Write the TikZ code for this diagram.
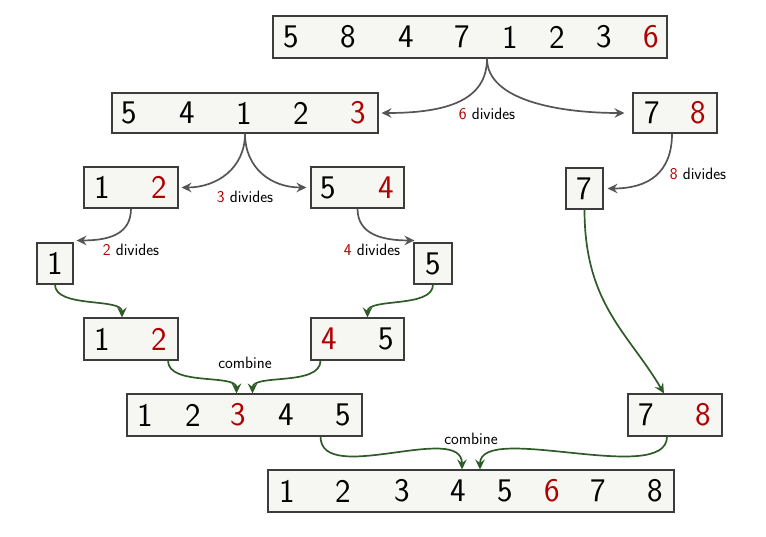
\documentclass[tikz,border=0pt]{standalone}
\usetikzlibrary{arrows.meta}
\definecolor{boxfill}{HTML}{F6F6F3}
\definecolor{boxdraw}{HTML}{3C3C3C}
\definecolor{numred}{HTML}{B00000}
\definecolor{arrgray}{HTML}{555555}
\definecolor{arrgreen}{HTML}{2E5B28}
\tikzset{
  box/.style={draw=boxdraw, fill=boxfill, line width=1.1pt, inner sep=0pt, minimum height=41pt},
  num/.style={font=\sffamily\fontsize{33}{36}\selectfont, inner sep=0pt, anchor=center},
  rnum/.style={num, text=numred},
  lab/.style={font=\sffamily\fontsize{16.5}{19}\selectfont, inner sep=0pt},
  tipstyle/.style={-{Stealth[length=10pt,width=9.5pt,inset=3.5pt]}},
  divarrow/.style={draw=arrgray, line width=1.7pt, tipstyle},
  combarrow/.style={draw=arrgreen, line width=1.7pt, tipstyle},
}
\begin{document}
\begin{tikzpicture}[x=1pt,y=-1pt]
\useasboundingbox (0,0) rectangle (766,536);
% boxes
\node[box, minimum width=394pt, minimum height=42pt] (top) at (470,37) {};
\node[box, minimum width=266pt, minimum height=40pt] (b2) at (245,113) {};
\node[box, minimum width=84pt, minimum height=40pt] (b78) at (675,113) {};
\node[box, minimum width=94pt] (b12) at (131,187.5) {};
\node[box, minimum width=93pt] (b54) at (357.5,187.5) {};
\node[box, minimum width=36pt] (b1) at (55,263.5) {};
\node[box, minimum width=38pt] (b5) at (433,263.5) {};
\node[box, minimum width=37pt] (b7) at (584.5,188.5) {};
\node[box, minimum width=94pt, minimum height=42pt] (c12) at (131,339) {};
\node[box, minimum width=93pt, minimum height=42pt] (c45) at (357.5,339) {};
\node[box, minimum width=235pt, minimum height=42pt] (c12345) at (244.5,415) {};
\node[box, minimum width=94pt, minimum height=42pt] (c78) at (675,415) {};
\node[box, minimum width=406pt, minimum height=42pt] (fin) at (471,491) {};
% numbers: top
\node[num] (t1) at (291,37) {5};
\node[num] (t2) at (348,37) {8};
\node[num] (t3) at (406,37) {4};
\node[num] (t4) at (462,37) {7};
\node[num] (t5) at (510,37) {1};
\node[num] (t6) at (557,37) {2};
\node[num] (t7) at (604,37) {3};
\node[rnum] (t8) at (651,37) {6};
% b2
\node[num] (u1) at (129,113) {5};
\node[num] (u2) at (187,113) {4};
\node[num] (u3) at (244,113) {1};
\node[num] (u4) at (301,113) {2};
\node[rnum] (u5) at (358,113) {3};
% b78
\node[num] (v1) at (652,113) {7};
\node[rnum] (v2) at (698,113) {8};
% b12
\node[num] (w1) at (102,187.5) {1};
\node[rnum] (w2) at (159,187.5) {2};
% b54
\node[num] (x1) at (328,187.5) {5};
\node[rnum] (x2) at (386,187.5) {4};
% b1, b5, b7
\node[num] (y1) at (55,263.5) {1};
\node[num] (y2) at (433,263.5) {5};
\node[num] (y3) at (584.5,188.5) {7};
% c12
\node[num] (z1) at (102,339) {1};
\node[rnum] (z2) at (159,339) {2};
% c45
\node[rnum] (z3) at (329,339) {4};
\node[num] (z4) at (386,339) {5};
% c12345
\node[num] (k1) at (145,415) {1};
\node[num] (k2) at (193,415) {2};
\node[rnum] (k3) at (238,415) {3};
\node[num] (k4) at (286,415) {4};
\node[num] (k5) at (343,415) {5};
% c78
\node[num] (m1) at (646,415) {7};
\node[rnum] (m2) at (703,415) {8};
% final
\node[num] (f1) at (287,491) {1};
\node[num] (f2) at (343,491) {2};
\node[num] (f3) at (402,491) {3};
\node[num] (f4) at (458,491) {4};
\node[num] (f5) at (505,491) {5};
\node[rnum] (f6) at (552,491) {6};
\node[num] (f7) at (598,491) {7};
\node[num] (f8) at (655,491) {8};
% labels
\node[lab] (l6) at (487,114) {{\color{numred}6} divides};
\node[lab] (l3) at (245,197) {{\color{numred}3} divides};
\node[lab] (l2) at (131,250) {{\color{numred}2} divides};
\node[lab] (l4) at (372,250) {{\color{numred}4} divides};
\node[lab] (l8) at (698,174) {{\color{numred}8} divides};
\node[lab] (lc1) at (245,363) {combine};
\node[lab] (lc2) at (471,439) {combine};
% divide arrows
\draw[divarrow] ([xshift=17pt]top.south) .. controls +(0,42) and +(65,0) .. ([xshift=3pt]b2.east);
\draw[divarrow] ([xshift=17pt]top.south) .. controls +(0,42) and +(-65,0) .. ([xshift=-8pt]b78.west);
\draw[divarrow] (b2.south) .. controls +(0,35) and +(35,0) .. ([xshift=3pt]b12.east);
\draw[divarrow] (b2.south) .. controls +(0,35) and +(-35,0) .. ([xshift=-4pt]b54.west);
\draw[divarrow] (b12.south) .. controls +(0,26) and +(32,0) .. ([xshift=3pt,yshift=2pt]b1.north east);
\draw[divarrow] (b54.south) .. controls +(0,26) and +(-32,0) .. ([xshift=1pt,yshift=2pt]b5.north west);
\draw[divarrow] ([xshift=-3pt]b78.south) .. controls +(0,40) and +(40,0) .. ([xshift=4pt]b7.east);
% combine arrows
\draw[combarrow] (b1.south) .. controls +(0,24) and +(0,-20) .. ([xshift=-9pt]c12.north);
\draw[combarrow] (b5.south) .. controls +(0,24) and +(0,-20) .. ([xshift=10pt]c45.north);
\draw[combarrow] ([xshift=37pt]c12.south) .. controls +(0,26) and +(0,-20) .. ([xshift=-8pt]c12345.north);
\draw[combarrow] ([xshift=-37pt]c45.south) .. controls +(0,26) and +(0,-20) .. ([xshift=8pt]c12345.north);
\draw[combarrow] (b7.south) .. controls +(0,95) and +(-35,-60) .. ([xshift=-11pt]c78.north);
\draw[combarrow] ([xshift=-42pt]c12345.south east) .. controls +(0,50) and +(0,-48) .. ([xshift=-9pt]fin.north);
\draw[combarrow] ([xshift=-8pt]c78.south) .. controls +(0,50) and +(0,-48) .. ([xshift=9pt]fin.north);
\end{tikzpicture}
\end{document}
